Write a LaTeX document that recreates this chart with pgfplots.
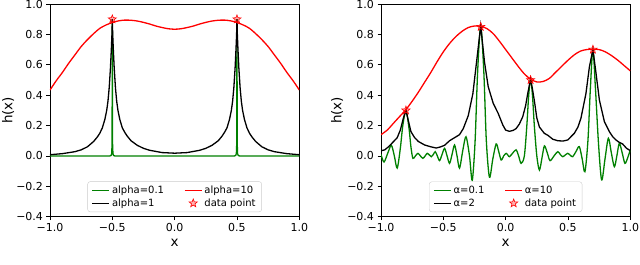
\documentclass[border=0pt]{standalone}
\usepackage{pgfplots}
\pgfplotsset{compat=1.18}
\usepackage{fontspec}
\setmainfont{DejaVu Sans}
\usetikzlibrary{plotmarks}

\pgfdeclareplotmark{fstar}{%
  \pgfpathmoveto{\pgfpointpolar{90}{\pgfplotmarksize}}%
  \pgfpathlineto{\pgfpointpolar{126}{0.42\pgfplotmarksize}}%
  \pgfpathlineto{\pgfpointpolar{162}{\pgfplotmarksize}}%
  \pgfpathlineto{\pgfpointpolar{198}{0.42\pgfplotmarksize}}%
  \pgfpathlineto{\pgfpointpolar{234}{\pgfplotmarksize}}%
  \pgfpathlineto{\pgfpointpolar{270}{0.42\pgfplotmarksize}}%
  \pgfpathlineto{\pgfpointpolar{306}{\pgfplotmarksize}}%
  \pgfpathlineto{\pgfpointpolar{342}{0.42\pgfplotmarksize}}%
  \pgfpathlineto{\pgfpointpolar{18}{\pgfplotmarksize}}%
  \pgfpathlineto{\pgfpointpolar{54}{0.42\pgfplotmarksize}}%
  \pgfpathclose\pgfusepathqfillstroke}

\definecolor{mplgreen}{rgb}{0,0.5,0}

\pgfplotsset{
  myax/.style={
    width=249.3pt, height=212.7pt, scale only axis,
    xmin=-1, xmax=1, ymin=-0.4, ymax=1.0,
    xtick={-1,-0.5,0,0.5,1},
    xticklabels={−1.0,−0.5,0.0,0.5,1.0},
    ytick={-0.4,-0.2,0,0.2,0.4,0.6,0.8,1.0},
    yticklabels={−0.4,−0.2,0.0,0.2,0.4,0.6,0.8,1.0},
    tick align=outside, tick pos=left,
    major tick length=3.5pt,
    tick style={black, line width=0.6pt},
    axis line style={black, line width=0.6pt},
    tick label style={font=\fontsize{11}{13}\selectfont},
    label style={font=\fontsize{13.5}{16}\selectfont},
    xlabel={x}, ylabel={h(x)},
    xlabel style={at={(axis description cs:0.5,-0.125)}, anchor=center},
    legend columns=2,
    legend cell align=left,
    legend style={font=\fontsize{10}{12}\selectfont, draw=black!20,
      rounded corners=2.5pt, fill=white, fill opacity=0.8, text opacity=1,
      at={(0.5,0.022)}, anchor=south, inner xsep=4pt, inner ysep=2pt,
      /tikz/every even column/.append style={column sep=18pt}},
  },
  starst/.style={only marks, mark=fstar, mark size=4.3pt,
    mark options={draw=red, fill=red, fill opacity=0.3, line width=0.6pt}},
}

\begin{document}
\begin{tikzpicture}
\path[use as bounding box] (0pt,0pt) rectangle (640pt,265pt);

% ---------------- left panel ----------------
\begin{axis}[myax, at={(50pt,48.3pt)}, anchor=south west,
  ylabel style={at={(axis description cs:-0.168,0.5)}, anchor=center}]
\addlegendimage{color=mplgreen, line width=1.3pt, mark=none}\addlegendentry{alpha=0.1}
\addlegendimage{color=red, line width=1.3pt, mark=none}\addlegendentry{alpha=10}
\addlegendimage{color=black, line width=1.3pt, mark=none}\addlegendentry{alpha=1}
\addlegendimage{starst}\addlegendentry{data point}

\addplot[color=mplgreen, line width=1.3pt, mark=none, forget plot] coordinates {
(-1,0) (-0.52,0.0) (-0.51,0.003) (-0.505,0.015) (-0.502,0.08) (-0.5,0.9)
(-0.498,0.08) (-0.495,0.015) (-0.49,0.003) (-0.48,0)
(0.48,0) (0.49,0.003) (0.495,0.015) (0.498,0.08) (0.5,0.9)
(0.502,0.08) (0.505,0.015) (0.51,0.003) (0.52,0) (1,0)};

\addplot[color=black, line width=1.3pt, mark=none, forget plot] coordinates {
(-1,0.008) (-0.9,0.015) (-0.8,0.028) (-0.75,0.04) (-0.7,0.06) (-0.65,0.095)
(-0.62,0.125) (-0.6,0.15) (-0.58,0.185) (-0.56,0.24) (-0.545,0.30) (-0.535,0.36)
(-0.525,0.45) (-0.515,0.58) (-0.508,0.70) (-0.503,0.80) (-0.5,0.9)
(-0.497,0.80) (-0.492,0.70) (-0.485,0.58) (-0.475,0.45) (-0.465,0.36)
(-0.455,0.30) (-0.44,0.24) (-0.42,0.185) (-0.4,0.155) (-0.38,0.13)
(-0.35,0.10) (-0.3,0.07) (-0.25,0.05) (-0.2,0.037) (-0.1,0.022) (0,0.018)
(0.1,0.022) (0.2,0.037) (0.25,0.05) (0.3,0.07) (0.35,0.10) (0.38,0.13)
(0.4,0.155) (0.42,0.185) (0.44,0.24) (0.455,0.30) (0.465,0.36) (0.475,0.45)
(0.485,0.58) (0.492,0.70) (0.497,0.80) (0.5,0.9)
(0.503,0.80) (0.508,0.70) (0.515,0.58) (0.525,0.45) (0.535,0.36) (0.545,0.30)
(0.56,0.24) (0.58,0.185) (0.6,0.15) (0.62,0.125) (0.65,0.095) (0.7,0.06)
(0.75,0.04) (0.8,0.028) (0.9,0.015) (1,0.008)};

\addplot[color=red, line width=1.3pt, mark=none, smooth, forget plot] coordinates {
(-1,0.434) (-0.95,0.495) (-0.9,0.55) (-0.85,0.61) (-0.8,0.665) (-0.75,0.72)
(-0.7,0.765) (-0.65,0.805) (-0.6,0.84) (-0.55,0.862) (-0.5,0.878) (-0.45,0.889)
(-0.4,0.894) (-0.35,0.893) (-0.3,0.888) (-0.25,0.879) (-0.2,0.868) (-0.15,0.855)
(-0.1,0.845) (-0.05,0.837) (0,0.834) (0.05,0.837) (0.1,0.845) (0.15,0.855)
(0.2,0.868) (0.25,0.879) (0.3,0.888) (0.35,0.893) (0.4,0.894) (0.45,0.889)
(0.5,0.878) (0.55,0.862) (0.6,0.84) (0.65,0.805) (0.7,0.765) (0.75,0.72)
(0.8,0.665) (0.85,0.61) (0.9,0.55) (0.95,0.495) (1,0.434)};

\addplot[starst, forget plot] coordinates {(-0.5,0.9) (0.5,0.9)};
\end{axis}

% ---------------- right panel ----------------
\begin{axis}[myax, at={(381pt,48.3pt)}, anchor=south west,
  ylabel style={at={(axis description cs:-0.176,0.5)}, anchor=center}]
\addlegendimage{color=mplgreen, line width=1.3pt, mark=none}\addlegendentry{α=0.1}
\addlegendimage{color=red, line width=1.3pt, mark=none}\addlegendentry{α=10}
\addlegendimage{color=black, line width=1.3pt, mark=none}\addlegendentry{α=2}
\addlegendimage{starst}\addlegendentry{data point}

\addplot[color=mplgreen, line width=1.3pt, mark=none, smooth, forget plot] coordinates {
(-1.0,0.01) (-0.976,-0.04) (-0.945,0.02) (-0.917,0.07) (-0.893,0.0) (-0.87,-0.08)
(-0.845,0.05) (-0.825,0.2) (-0.8,0.3) (-0.775,0.18) (-0.76,0.06) (-0.744,-0.016)
(-0.724,0.0) (-0.704,0.017) (-0.684,0.0) (-0.664,-0.016) (-0.646,0.0) (-0.629,0.017)
(-0.612,0.006) (-0.597,-0.005) (-0.58,0.01) (-0.565,0.028) (-0.548,0.0) (-0.53,-0.031)
(-0.51,0.01) (-0.49,0.05) (-0.47,0.0) (-0.45,-0.049) (-0.43,0.01) (-0.41,0.072)
(-0.39,0.0) (-0.37,-0.08) (-0.343,0.04) (-0.318,0.126) (-0.29,0.0) (-0.268,-0.16)
(-0.245,0.1) (-0.225,0.55) (-0.2,0.855) (-0.175,0.55) (-0.155,0.1) (-0.13,-0.14)
(-0.103,-0.02) (-0.076,0.079) (-0.056,0.03) (-0.036,-0.027) (-0.016,0.0) (0.004,0.017)
(0.018,0.005) (0.031,-0.005) (0.058,0.02) (0.084,0.04) (0.104,0.0) (0.124,-0.049)
(0.15,0.0) (0.17,0.2) (0.185,0.4) (0.2,0.505) (0.215,0.4) (0.23,0.2) (0.25,0.0)
(0.271,-0.093) (0.292,-0.01) (0.311,0.066) (0.334,0.02) (0.356,-0.031) (0.388,0.0)
(0.418,0.028) (0.438,0.01) (0.458,-0.005) (0.478,0.006) (0.498,0.017) (0.518,0.005)
(0.538,-0.005) (0.565,0.03) (0.591,0.061) (0.614,-0.02) (0.636,-0.104) (0.66,0.1)
(0.68,0.45) (0.7,0.70) (0.72,0.45) (0.745,0.08) (0.77,-0.158) (0.797,-0.02)
(0.824,0.116) (0.848,0.02) (0.872,-0.071) (0.892,0.0) (0.912,0.083) (0.935,0.02)
(0.957,-0.049) (0.98,-0.01) (1.0,0.04)};

\addplot[color=black, line width=1.3pt, mark=none, forget plot] coordinates {
(-1.0,0.034) (-0.97,0.04) (-0.94,0.06) (-0.9,0.094) (-0.87,0.12) (-0.845,0.17)
(-0.82,0.25) (-0.8,0.3) (-0.78,0.23) (-0.76,0.16) (-0.73,0.12) (-0.7,0.095)
(-0.65,0.072) (-0.6,0.06) (-0.557,0.052) (-0.52,0.06) (-0.49,0.07) (-0.45,0.1)
(-0.41,0.12) (-0.37,0.14) (-0.34,0.18) (-0.3,0.265) (-0.263,0.41) (-0.236,0.6)
(-0.2,0.855) (-0.17,0.62) (-0.14,0.456) (-0.1,0.347) (-0.06,0.28) (-0.023,0.204)
(0.0,0.17) (0.03,0.162) (0.06,0.168) (0.084,0.18) (0.11,0.21) (0.137,0.258)
(0.16,0.33) (0.177,0.41) (0.2,0.505) (0.215,0.44) (0.231,0.36) (0.25,0.25)
(0.271,0.19) (0.31,0.149) (0.34,0.135) (0.378,0.11) (0.418,0.10) (0.46,0.098)
(0.498,0.105) (0.551,0.149) (0.58,0.19) (0.604,0.248) (0.644,0.41) (0.672,0.587)
(0.7,0.70) (0.725,0.544) (0.752,0.368) (0.792,0.226) (0.832,0.16) (0.86,0.125)
(0.885,0.105) (0.91,0.09) (0.938,0.079) (0.97,0.05) (1.0,0.035)};

\addplot[color=red, line width=1.3pt, mark=none, smooth, forget plot] coordinates {
(-1,0.14) (-0.95,0.17) (-0.9,0.215) (-0.85,0.26) (-0.8,0.305) (-0.75,0.36)
(-0.7,0.42) (-0.65,0.485) (-0.6,0.55) (-0.55,0.62) (-0.5,0.685) (-0.45,0.74)
(-0.4,0.785) (-0.35,0.82) (-0.3,0.845) (-0.25,0.855) (-0.2,0.853) (-0.15,0.838)
(-0.1,0.805) (-0.05,0.755) (0,0.70) (0.05,0.645) (0.1,0.59) (0.15,0.54)
(0.2,0.505) (0.25,0.487) (0.3,0.49) (0.35,0.51) (0.4,0.55) (0.45,0.59)
(0.5,0.63) (0.55,0.665) (0.6,0.69) (0.65,0.70) (0.7,0.703) (0.75,0.70)
(0.8,0.685) (0.85,0.66) (0.9,0.63) (0.95,0.595) (1.0,0.56)};

\addplot[starst, forget plot] coordinates {(-0.8,0.3) (-0.2,0.85) (0.2,0.5) (0.7,0.7)};
\end{axis}
\end{tikzpicture}
\end{document}
